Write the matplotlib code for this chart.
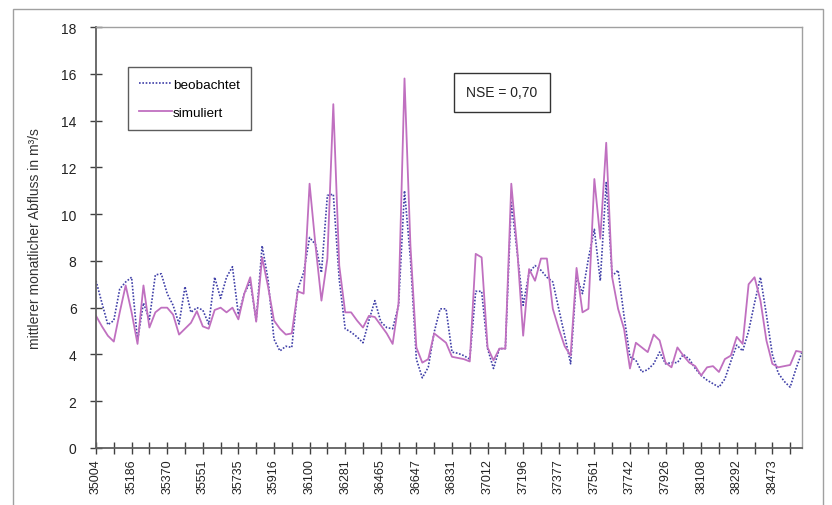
import numpy as np
import pandas as pd
import matplotlib.pyplot as plt
from matplotlib.patches import Rectangle

plt.rcParams['font.family'] = ['Liberation Sans', 'DejaVu Sans']

# Monatswerte Nov 1995 - Okt 2005 (Excel-Datumszahlen als Kategorien)
monate = pd.date_range('1995-11-01', periods=120, freq='MS')
datum_zahl = (monate - pd.Timestamp('1899-12-30')).days

beobachtet = [
    7.15, 6.2, 5.27, 5.45, 6.8, 7.1, 7.3, 4.6, 6.2, 5.5,
    7.4, 7.45, 6.6, 6.1, 5.3, 6.9, 5.8, 6.0, 5.9, 5.3,
    7.3, 6.4, 7.3, 7.75, 5.7, 6.6, 7.1, 5.45, 8.65, 7.2,
    4.65, 4.15, 4.35, 4.3, 6.8, 7.5, 9.0, 8.7, 7.5, 10.8,
    10.85, 7.2, 5.1, 4.95, 4.75, 4.5, 5.45, 6.3, 5.4, 5.15,
    5.1, 6.1, 11.0, 8.1, 3.8, 3.0, 3.45, 4.95, 5.95, 5.95,
    4.1, 4.05, 3.95, 3.8, 6.7, 6.7, 4.25, 3.4, 4.25, 4.25,
    10.5, 8.35, 6.1, 7.5, 7.8, 7.6, 7.3, 7.1, 5.95, 4.8,
    3.6, 7.35, 6.6, 8.1, 9.35, 7.15, 11.35, 7.35, 7.6, 5.65,
    3.9, 3.75, 3.25, 3.35, 3.6, 4.1, 3.6, 3.65, 3.65, 4.0,
    3.8, 3.4, 3.1, 2.9, 2.75, 2.6, 2.95, 3.7, 4.4, 4.15,
    5.0, 6.2, 7.3, 5.7, 4.0, 3.2, 2.85, 2.6, 3.4, 4.1,
]

simuliert = [
    5.65, 5.2, 4.8, 4.55, 5.8, 6.95, 5.8, 4.45, 6.95, 5.15,
    5.8, 6.0, 6.0, 5.7, 4.85, 5.1, 5.35, 5.85, 5.2, 5.1,
    5.9, 6.0, 5.8, 6.0, 5.5, 6.6, 7.3, 5.4, 8.15, 6.9,
    5.45, 5.1, 4.85, 4.9, 6.7, 6.6, 11.3, 8.65, 6.3, 8.1,
    14.7, 7.8, 5.8, 5.8, 5.45, 5.15, 5.65, 5.6, 5.25, 4.9,
    4.45, 6.2, 15.8, 8.65, 4.3, 3.65, 3.8, 4.9, 4.7, 4.5,
    3.9, 3.85, 3.8, 3.7, 8.3, 8.15, 4.3, 3.75, 4.25, 4.25,
    11.3, 8.5, 4.8, 7.65, 7.15, 8.1, 8.1, 5.95, 5.1, 4.35,
    3.95, 7.7, 5.8, 5.95, 11.5, 8.95, 13.05, 7.3, 5.95, 5.1,
    3.4, 4.5, 4.3, 4.1, 4.85, 4.6, 3.65, 3.45, 4.3, 3.95,
    3.65, 3.5, 3.1, 3.45, 3.5, 3.25, 3.8, 3.95, 4.75, 4.45,
    7.0, 7.3, 6.3, 4.6, 3.6, 3.45, 3.5, 3.55, 4.15, 4.1,
]

nse_text = 'NSE = 0,70'

fig = plt.figure(figsize=(8.32, 5.06), dpi=100)

# Rahmen um das ganze Diagramm (unten abgeschnitten)
fig.patches.append(Rectangle((13 / 832, -10 / 506), 810 / 832, 506 / 506,
                             transform=fig.transFigure, fill=False,
                             edgecolor='#a0a0a0', linewidth=1.0))

ax = fig.add_axes([96 / 832, 57 / 506, 706 / 832, 421 / 506])

x = np.arange(len(monate))
ax.plot(x, beobachtet, color='#4040a8', linestyle=(0, (1, 1)), linewidth=1.2,
        label='beobachtet')
ax.plot(x, simuliert, color='#c070c0', linestyle='-', linewidth=1.3,
        label='simuliert')

ax.set_xlim(0, len(monate) - 1)
ax.set_ylim(0, 18)
ax.set_yticks(range(0, 19, 2))

tick_pos = x[::3]
tick_lab = [str(d) if i % 2 == 0 else '' for i, d in enumerate(datum_zahl[::3])]
ax.set_xticks(tick_pos)
ax.set_xticklabels(tick_lab, rotation=90, fontsize=9, color='#222222')
ax.tick_params(direction='inout', length=8, width=1.0, color='#404040')
ax.tick_params(axis='y', labelsize=10, labelcolor='#222222', pad=10)

for s in ['left', 'bottom']:
    ax.spines[s].set_color('#606060')
    ax.spines[s].set_linewidth(1.3)
for s in ['top', 'right']:
    ax.spines[s].set_color('#a0a0a0')
    ax.spines[s].set_linewidth(1.0)

ax.set_ylabel('mittlerer monatlicher Abfluss in m³/s', fontsize=10,
              color='#333333')
ax.yaxis.set_label_coords((42 - 96) / 706, 0.5)

leg = ax.legend(loc='upper left', bbox_to_anchor=(32 / 706, 1 - 40 / 421),
                frameon=True, fancybox=False, fontsize=9.7, handlelength=2.4,
                labelspacing=1.15, borderpad=0.85, handletextpad=0.1,
                borderaxespad=0)
leg.get_frame().set_edgecolor('#333333')
leg.get_frame().set_linewidth(1.0)

ax.text((502 - 96) / 706, 1 - (93 - 28) / 421, nse_text, transform=ax.transAxes,
        ha='center', va='center', fontsize=10, color='#222222',
        bbox=dict(boxstyle='square,pad=0.9', facecolor='white',
                  edgecolor='#333333', linewidth=1.0))

fig.savefig('out.png', dpi=100)
